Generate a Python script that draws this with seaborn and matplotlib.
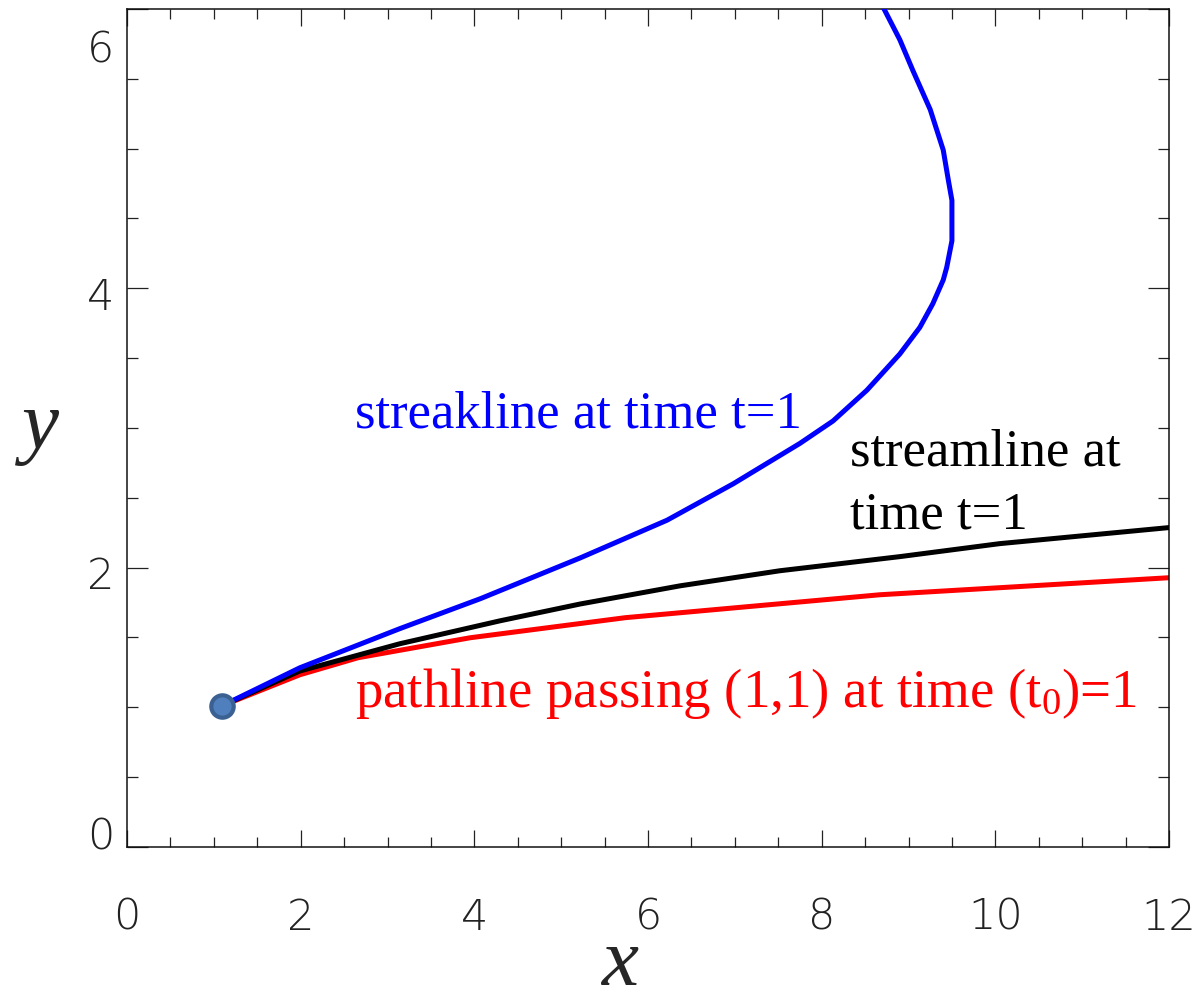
import matplotlib
matplotlib.use("Agg")
import matplotlib.pyplot as plt
import matplotlib.transforms as mtrans
from matplotlib.ticker import MultipleLocator
import seaborn as sns

# ---- data ----
streak_x = [1.09, 1.99, 3.14, 4.07, 5.22, 6.22, 6.98, 7.75, 8.13, 8.52, 8.90,
            9.13, 9.28, 9.40, 9.44, 9.50, 9.50, 9.46, 9.40, 9.25, 9.05, 8.90, 8.71]
streak_y = [1.01, 1.283, 1.563, 1.778, 2.07, 2.34, 2.60, 2.89, 3.05, 3.27, 3.53,
            3.72, 3.89, 4.06, 4.15, 4.34, 4.63, 4.77, 4.99, 5.28, 5.56, 5.78, 6.01]
stream_x = [1.09, 1.99, 3.14, 4.30, 5.22, 6.37, 7.52, 8.90, 10.05, 12.0]
stream_y = [1.01, 1.26, 1.455, 1.62, 1.74, 1.87, 1.978, 2.079, 2.172, 2.287]
path_x = [1.09, 1.99, 2.66, 3.95, 5.74, 8.67, 12.0]
path_y = [1.01, 1.233, 1.355, 1.498, 1.642, 1.806, 1.928]
seed_x = [1.09]
seed_y = [1.01]

x_ticks = [0, 2, 4, 6, 8, 10, 12]
y_ticks = [0, 2, 4, 6]
x_tick_labels = ["0", "2", "4", "6", "8", "10", "12"]
y_tick_labels = ["0", "2", "4", "6"]

streak_label = "streakline at time t=1"
stream_label = ["streamline at", "time t=1"]
path_label = r"pathline passing (1,1) at time ($\mathrm{t}_\mathrm{0}$)=1"

# ---- style ----
sns.set_theme(style="white")
plt.rcParams["font.family"] = ["Liberation Sans Narrow", "DejaVu Sans"]
plt.rcParams["mathtext.fontset"] = "custom"
plt.rcParams["mathtext.rm"] = "Liberation Serif"
plt.rcParams["mathtext.it"] = "Liberation Serif:italic"

fig = plt.figure(figsize=(12.01, 10.01), dpi=100)
ax = fig.add_axes([0.10575, 0.15385, 0.86761, 0.83716])

sns.lineplot(x=path_x, y=path_y, sort=False, estimator=None, color="#ff0000",
             linewidth=3.6, ax=ax, zorder=2)
sns.lineplot(x=stream_x, y=stream_y, sort=False, estimator=None, color="#000000",
             linewidth=3.6, ax=ax, zorder=3)
sns.lineplot(x=streak_x, y=streak_y, sort=False, estimator=None, color="#0000ff",
             linewidth=3.6, ax=ax, zorder=4)
sns.scatterplot(x=seed_x, y=seed_y, s=260, color="#4f7fbd", edgecolor="#3a6191",
                linewidth=3, ax=ax, zorder=5)

ax.set_xlim(0, 12)
ax.set_ylim(0, 6)

ax.set_xticks(x_ticks)
ax.set_xticklabels(x_tick_labels)
ax.set_yticks(y_ticks)
ax.set_yticklabels(y_tick_labels)
ax.xaxis.set_minor_locator(MultipleLocator(0.5))
ax.yaxis.set_minor_locator(MultipleLocator(0.5))

ax.tick_params(axis="x", which="major", direction="in", length=12.5, width=0.9,
               color="#222222", top=True, bottom=True, labelsize=31, pad=36,
               labelcolor="#222222")
ax.tick_params(axis="x", which="minor", direction="in", length=7, width=0.9,
               color="#222222", top=True, bottom=True)
ax.tick_params(axis="y", which="major", direction="in", length=15, width=0.9,
               color="#222222", left=True, right=True, labelsize=31, pad=9,
               labelcolor="#222222")
ax.tick_params(axis="y", which="minor", direction="in", length=8, width=0.9,
               color="#222222", left=True, right=True)

for sp in ax.spines.values():
    sp.set_visible(True)
    sp.set_color("#111111")
    sp.set_linewidth(1.1)

for lab in ax.get_xticklabels() + ax.get_yticklabels():
    lab.set_fontweight("light")

# y tick labels shifted as in the reference (end labels kept inside)
y_offsets_px = [14, -5, -5, -37]
for lab, dy in zip(ax.get_yticklabels(), y_offsets_px):
    lab.set_transform(lab.get_transform() +
                      mtrans.ScaledTranslation(0, dy / 100.0, fig.dpi_scale_trans))

# axis labels
ax.set_xlabel("x", family="Liberation Serif", style="italic", fontsize=60)
ax.xaxis.set_label_coords(0.473, -0.165)
ax.xaxis.label.set_va("baseline")
ax.set_ylabel("y", family="Liberation Serif", style="italic", fontsize=60,
              rotation=0)
ax.yaxis.set_label_coords(-0.0835, 0.50)
ax.yaxis.label.set_va("center")
ax.yaxis.label.set_ha("center")

# annotations
ax.text(2.626, 3.0, streak_label, color="#0000ff", family="Liberation Serif",
        fontsize=38, va="baseline", ha="left")
ax.text(8.327, 2.731, stream_label[0], color="#000000", family="Liberation Serif",
        fontsize=38, va="baseline", ha="left")
ax.text(8.327, 2.280, stream_label[1], color="#000000", family="Liberation Serif",
        fontsize=38, va="baseline", ha="left")
ax.text(2.626, 1.004, path_label, color="#ff0000", family="Liberation Serif",
        fontsize=39.5, va="baseline", ha="left")

fig.savefig("out.png", dpi=100)
